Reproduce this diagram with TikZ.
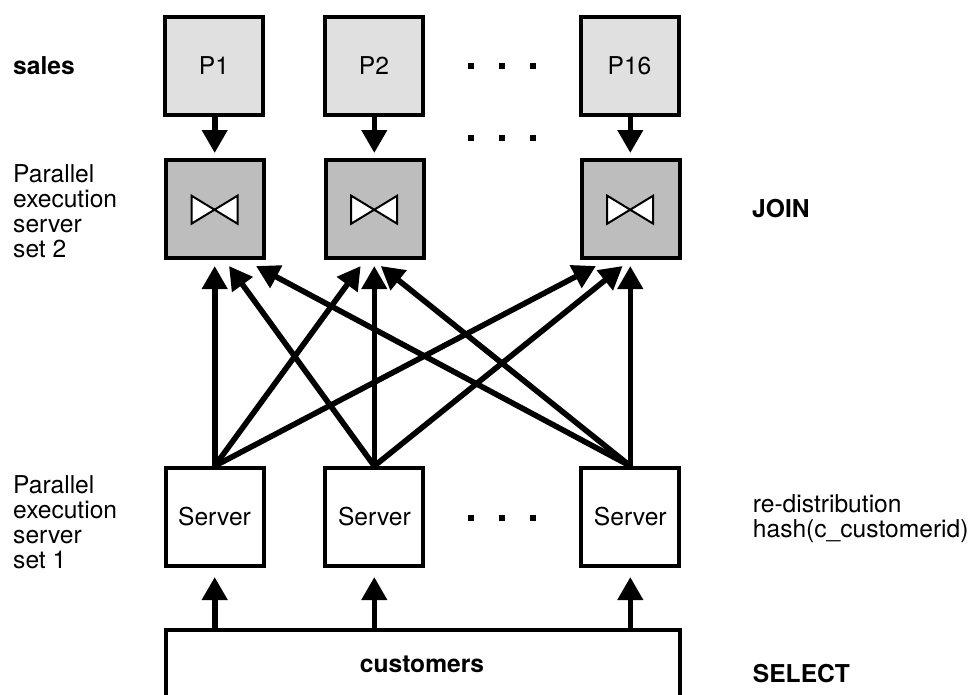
\documentclass[tikz,border=0pt]{standalone}
\usepackage{fontspec}
\setmainfont{TeX Gyre Heros}
\usetikzlibrary{arrows.meta,calc}
\newcommand{\reg}{\fontsize{24.6}{25}\selectfont}
\newcommand{\bld}{\fontsize{24.6}{25}\selectfont\bfseries}
\tikzset{
  x=1pt,y=-1pt,
  boxn/.style={draw=black,line width=4pt,minimum width=98pt,minimum height=98pt,inner sep=0pt,font=\reg},
  part/.style={boxn,fill=black!12},
  joinbox/.style={boxn,fill=black!26},
  srv/.style={boxn,fill=white},
  conn/.style={line width=5.6pt,-{Triangle[width=24.5pt,length=23pt,sep=0pt]}},
  lbl/.style={anchor=base west,inner sep=0pt,align=left,font=\reg},
  blbl/.style={lbl,font=\bld},
  dotm/.style={fill=black,draw=none,minimum size=6pt,inner sep=0pt},
  bowtie/.style={fill=white,line width=2pt,miter limit=10},
}
\newcommand{\bowt}[1]{\draw[bowtie] ($(#1)+(-23,-14)$) -- ($(#1)+(23,14)$) -- ($(#1)+(23,-14)$) -- ($(#1)+(-23,14)$) -- cycle;}
\begin{document}
\begin{tikzpicture}
\useasboundingbox (0,0) rectangle (972,694);
% column lines of the arrows
\coordinate (c1) at (214.7,0);
\coordinate (c2) at (374.3,0);
\coordinate (c3) at (630.3,0);
\node[part] (p1) at (214,66) {P1};
\node[part] (p2) at (374,66) {P2};
\node[part] (p16) at (629.5,66) {P16};
\node[joinbox] (j1) at (215.3,209) {};
\node[joinbox] (j2) at (375,209) {};
\node[joinbox] (j3) at (631,209) {};
\coordinate (b1) at (214.5,209.7);
\coordinate (b2) at (374.2,209.7);
\coordinate (b3) at (630.2,209.7);
\bowt{b1}\bowt{b2}\bowt{b3}
\node[srv] (s1) at (214.5,517) {Server};
\node[srv] (s2) at (374.4,517) {Server};
\node[srv] (s3) at (630.3,517) {Server};
\begin{scope}
\clip (0,0) rectangle (972,694);
\node[srv,minimum width=514pt,minimum height=100pt] (c) at (422.6,680) {};
\end{scope}
\node[anchor=base,inner sep=0pt,font=\bld] (ct) at (422,672.7) {customers};
% dots
\foreach \n/\yy in {a/65.7,b/137.7,d/518}{
  \node[dotm] (\n1) at (471,\yy) {};
  \node[dotm] (\n2) at (501.7,\yy) {};
  \node[dotm] (\n3) at (533,\yy) {};
}
% tips
\coordinate (t12) at (229,266);
\coordinate (t13) at (256,266);
\coordinate (t21) at (360.7,266);
\coordinate (t23) at (380.7,266);
\coordinate (t31) at (596,266);
\coordinate (t32) at (622.7,266);
\coordinate (dn) at (0,153);
\coordinate (up) at (0,266);
\coordinate (upb) at (0,577);
% partition to join
\draw[conn] (p1.south -| c1) -- (c1 |- dn);
\draw[conn] (p2.south -| c2) -- (c2 |- dn);
\draw[conn] (p16.south -| c3) -- (c3 |- dn);
% customers to servers
\draw[conn] (c.north -| c1) -- (c1 |- upb);
\draw[conn] (c.north -| c2) -- (c2 |- upb);
\draw[conn] (c.north -| c3) -- (c3 |- upb);
% servers to joins
\draw[conn] (s1.north -| c1) -- (c1 |- up);
\draw[conn] (s1.north -| c1) -- (t21);
\draw[conn] (s1.north -| c1) -- (t31);
\draw[conn] (s2.north -| c2) -- (t12);
\draw[conn] (s2.north -| c2) -- (c2 |- up);
\draw[conn] (s2.north -| c2) -- (t32);
\draw[conn] (s3.north -| c3) -- (t13);
\draw[conn] (s3.north -| c3) -- (t23);
\draw[conn] (s3.north -| c3) -- (c3 |- up);
% labels
\node[blbl] (l1) at (13,74) {sales};
\node[lbl,anchor=west] (l2) at (13,211.5) {Parallel\\execution\\server\\set 2};
\node[lbl,anchor=west] (l3) at (13,522.5) {Parallel\\execution\\server\\set 1};
\node[blbl] (l4) at (752,217) {JOIN};
\node[lbl,anchor=west] (l5) at (752.7,518.5) {re-distribution\\hash(c\_customerid)};
\node[blbl] (l6) at (752.7,682) {SELECT};
\end{tikzpicture}
\end{document}
